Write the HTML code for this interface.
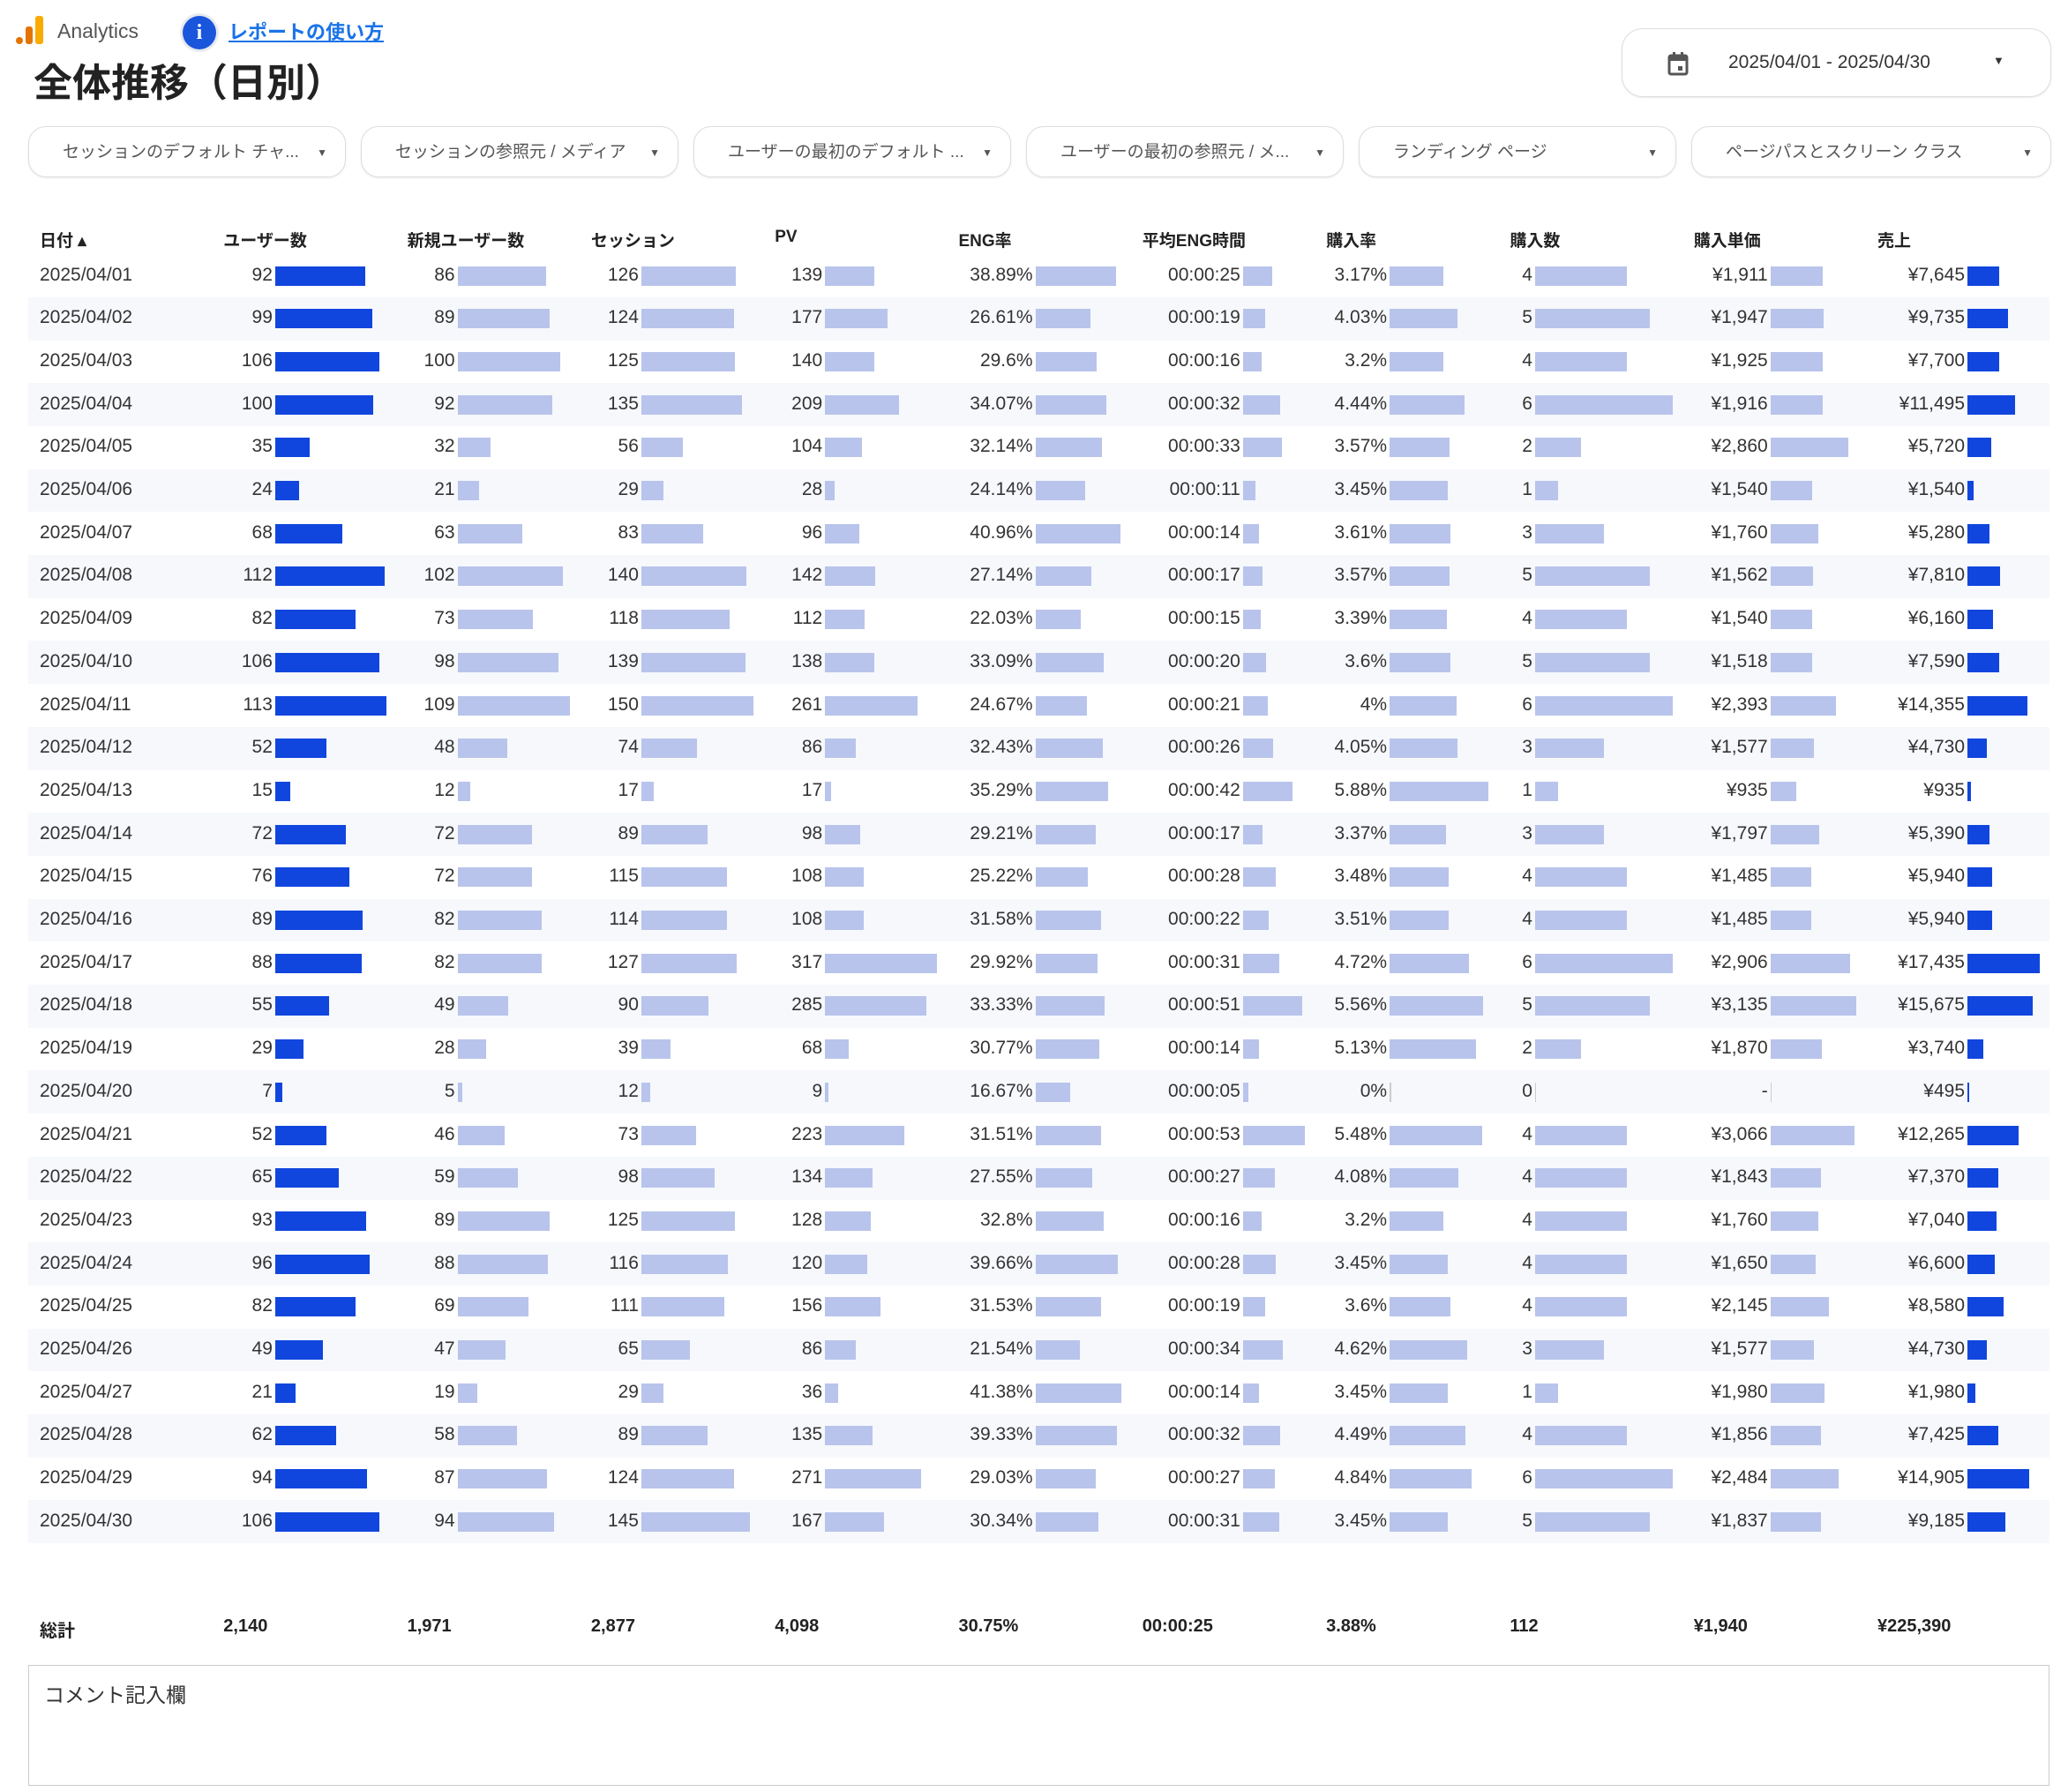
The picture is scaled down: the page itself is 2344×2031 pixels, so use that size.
<!DOCTYPE html>
<html><head><meta charset="utf-8">
<style>
body{margin:0;width:2344px;height:2031px;background:#fff;position:relative;overflow:hidden;font-family:"Liberation Sans","Noto Sans CJK JP",sans-serif;color:#333}
.a{position:absolute;white-space:nowrap}
.filter{position:absolute;top:143px;height:58px;border:1.5px solid #ddd;border-radius:20px;box-shadow:0 1px 2px rgba(0,0,0,.08);font-size:19px;color:#555;line-height:58px;box-sizing:border-box}
.filter span.t{position:absolute;left:38px}
.filter span.ar{position:absolute;right:20px;font-size:12px}
.hd{font-weight:bold;font-size:19px;color:#222;top:258px}
.tot{font-weight:bold;font-size:20px;color:#222;top:1832px}
.cell{font-size:21px;color:#333;text-align:right}
.bar{position:absolute;height:22px}
</style></head><body>
<div class="a" style="left:18px;top:18px;width:34px;height:34px">
<div style="position:absolute;left:0;top:24px;width:8px;height:8px;border-radius:4px;background:#e37400"></div>
<div style="position:absolute;left:11px;top:12px;width:8px;height:20px;border-radius:3px;background:#e37400"></div>
<div style="position:absolute;left:22px;top:0;width:9px;height:32px;border-radius:3px;background:#f9ab00"></div></div>
<div class="a" style="left:65px;top:22px;font-size:23px;color:#555">Analytics</div>
<div class="a" style="left:207px;top:18px;width:38px;height:38px;border-radius:50%;background:#1a56db;color:#fff;font-weight:bold;font-size:24px;text-align:center;line-height:38px;font-family:'Liberation Serif',serif;box-shadow:0 0 0 3px #e8eaf0">i</div>
<div class="a" style="left:259px;top:19px;font-size:22px;font-weight:bold;color:#1a73e8;text-decoration:underline">レポートの使い方</div>
<div class="a" style="left:38px;top:58px;font-size:44px;font-weight:bold;color:#222">全体推移（日別）</div>
<div class="a" style="left:1838px;top:32px;width:487px;height:78px;border:1.5px solid #ddd;border-radius:24px;box-sizing:border-box;box-shadow:0 1px 2px rgba(0,0,0,.08)">
<svg style="position:absolute;left:50px;top:25px" width="26" height="28" viewBox="0 0 26 28"><rect x="3" y="5" width="20" height="21" rx="2" fill="none" stroke="#555" stroke-width="3"/><rect x="3" y="5" width="20" height="6" fill="#555"/><rect x="7" y="1" width="3" height="6" fill="#555"/><rect x="16" y="1" width="3" height="6" fill="#555"/><rect x="13" y="17" width="5" height="5" fill="#555"/></svg>
<span style="position:absolute;left:120px;top:26px;font-size:21px;color:#333">2025/04/01 - 2025/04/30</span>
<span style="position:absolute;left:420px;top:28px;font-size:13px;color:#333">▼</span></div>
<div class="filter" style="left:32px;width:360px"><span class="t">セッションのデフォルト チャ...</span><span class="ar">▼</span></div>
<div class="filter" style="left:409px;width:360px"><span class="t">セッションの参照元 / メディア</span><span class="ar">▼</span></div>
<div class="filter" style="left:786px;width:360px"><span class="t">ユーザーの最初のデフォルト ...</span><span class="ar">▼</span></div>
<div class="filter" style="left:1163px;width:360px"><span class="t">ユーザーの最初の参照元 / メ...</span><span class="ar">▼</span></div>
<div class="filter" style="left:1540px;width:360px"><span class="t">ランディング ページ</span><span class="ar">▼</span></div>
<div class="filter" style="left:1917px;width:408px"><span class="t">ページパスとスクリーン クラス</span><span class="ar">▼</span></div>
<div id="tbl"></div>
<div class="a" style="left:32px;top:1887px;width:2291px;height:137px;border:1.5px solid #ccc;box-sizing:border-box">
<span style="position:absolute;left:17px;top:14px;font-size:23px;color:#333">コメント記入欄</span></div>
<script>
const dates=["01","02","03","04","05","06","07","08","09","10","11","12","13","14","15","16","17","18","19","20","21","22","23","24","25","26","27","28","29","30"];
const users=[92,99,106,100,35,24,68,112,82,106,113,52,15,72,76,89,88,55,29,7,52,65,93,96,82,49,21,62,94,106];
const newUsers=[86,89,100,92,32,21,63,102,73,98,109,48,12,72,72,82,82,49,28,5,46,59,89,88,69,47,19,58,87,94];
const sessions=[126,124,125,135,56,29,83,140,118,139,150,74,17,89,115,114,127,90,39,12,73,98,125,116,111,65,29,89,124,145];
const pv=[139,177,140,209,104,28,96,142,112,138,261,86,17,98,108,108,317,285,68,9,223,134,128,120,156,86,36,135,271,167];
const engRate=[38.89,26.61,29.6,34.07,32.14,24.14,40.96,27.14,22.03,33.09,24.67,32.43,35.29,29.21,25.22,31.58,29.92,33.33,30.77,16.67,31.51,27.55,32.8,39.66,31.53,21.54,41.38,39.33,29.03,30.34];
const engSec=[25,19,16,32,33,11,14,17,15,20,21,26,42,17,28,22,31,51,14,5,53,27,16,28,19,34,14,32,27,31];
const buyRate=[3.17,4.03,3.2,4.44,3.57,3.45,3.61,3.57,3.39,3.6,4,4.05,5.88,3.37,3.48,3.51,4.72,5.56,5.13,0,5.48,4.08,3.2,3.45,3.6,4.62,3.45,4.49,4.84,3.45];
const buyCount=[4,5,4,6,2,1,3,5,4,5,6,3,1,3,4,4,6,5,2,0,4,4,4,4,4,3,1,4,6,5];
const unitPrice=[1911,1947,1925,1916,2860,1540,1760,1562,1540,1518,2393,1577,935,1797,1485,1485,2906,3135,1870,null,3066,1843,1760,1650,2145,1577,1980,1856,2484,1837];
const revenue=[7645,9735,7700,11495,5720,1540,5280,7810,6160,7590,14355,4730,935,5390,5940,5940,17435,15675,3740,495,12265,7370,7040,6600,8580,4730,1980,7425,14905,9185];
const headers=["日付 ▴","ユーザー数","新規ユーザー数","セッション","PV","ENG率","平均ENG時間","購入率","購入数","購入単価","売上"];
const totals=["総計","2,140","1,971","2,877","4,098","30.75%","00:00:25","3.88%","112","¥1,940","¥225,390"];

const yen=v=>v==null?"-":"¥"+v.toLocaleString("en-US");
const tm=s=>"00:00:"+String(s).padStart(2,"0");
const cols=[
 {name:"users",vals:users,fmt:v=>String(v),off:58.6,dark:true},
 {name:"new-users",vals:newUsers,fmt:v=>String(v),off:57},
 {name:"sessions",vals:sessions,fmt:v=>String(v),off:57},
 {name:"pv",vals:pv,fmt:v=>String(v),off:57},
 {name:"eng-rate",vals:engRate,fmt:v=>v+"%",off:87},
 {name:"avg-eng-time",vals:engSec,fmt:tm,off:114},
 {name:"purchase-rate",vals:buyRate,fmt:v=>v+"%",off:72},
 {name:"purchase-count",vals:buyCount,fmt:v=>String(v),off:28.5},
 {name:"unit-price",vals:unitPrice,fmt:yen,off:87},
 {name:"revenue",vals:revenue,fmt:yen,off:102,dark:true}
];
const colW=208.3, col0=45, rowY0=312.5, rowH=48.7;
const colX=i=>col0+colW*i;
const tbl=document.getElementById("tbl");
function mk(cls,style,text){const d=document.createElement("div");d.className=cls;d.setAttribute("style",style);if(text!=null)d.textContent=text;tbl.appendChild(d);return d;}
headers.forEach((h,i)=>{
 const d=mk("a hd","left:"+colX(i)+"px",h);
 
 
});
dates.forEach((dt,r)=>{
 const cy=rowY0+rowH*r;
 if(r%2==1){const b=mk("a","left:32px;top:"+(cy-rowH/2)+"px;width:2291px;height:"+rowH+"px;background:#f6f8fc");
  
  }
 const t=mk("a cell","left:"+colX(0)+"px;top:"+(cy-13)+"px;text-align:left","2025/04/"+dt);
 
 
 cols.forEach((c,ci)=>{
  const x=colX(ci+1), bx=x+c.off, maxW=colW-c.off-24;
  const mx=Math.max(...c.vals.filter(v=>v!=null));
  const v=c.vals[r];
  const lbl=mk("a cell","left:"+(bx-200)+"px;width:197px;top:"+(cy-13)+"px",c.fmt(v));
  
  
  const w=v==null||v==0?1.5:Math.max(1.5,(v/mx)*maxW);
  const bar=mk("bar","left:"+bx+"px;top:"+(cy-11)+"px;width:"+w+"px;background:"+(v==null||v==0?"#ccc":(c.dark?"#1146de":"#b8c4eb")));
  
  
 });
});
totals.forEach((t,i)=>{
 const d=mk("a tot","left:"+colX(i)+"px",t);
 
 
});
</script>
</body></html>
